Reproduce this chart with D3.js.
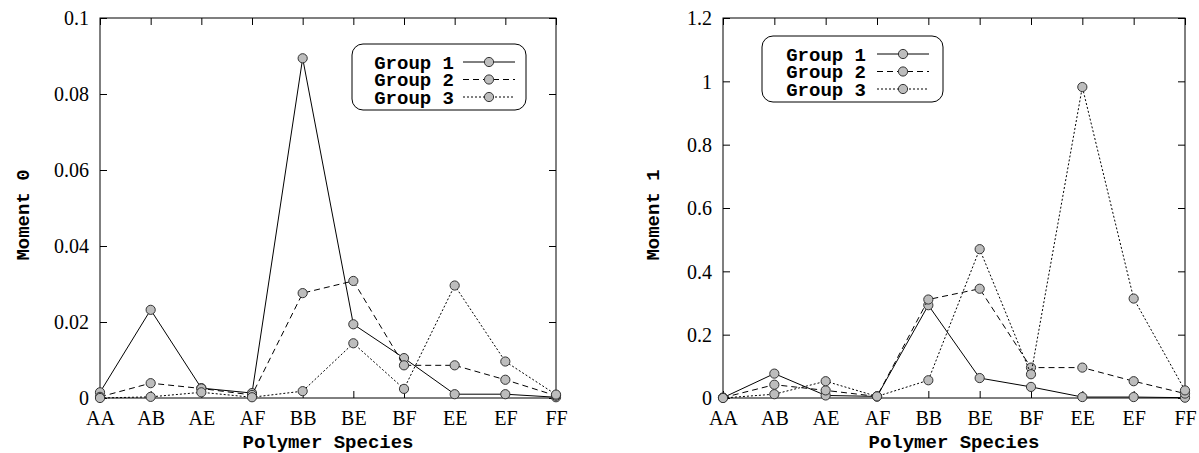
<!DOCTYPE html>
<html>
<head>
<meta charset="utf-8">
<script src="https://cdn.jsdelivr.net/npm/d3@7"></script>
<style>
  body { margin: 0; background: #fff; }
  svg { display: block; }
</style>
</head>
<body>
<svg id="chart" width="1199" height="453"></svg>
<script>
// Polymer species along the x axis
const categories = ["AA", "AB", "AE", "AF", "BB", "BE", "BF", "EE", "EF", "FF"];
const groupNames = ["Group 1", "Group 2", "Group 3"];

// Moment 0 per species
const moment0Group1 = [0.0015, 0.0232, 0.0026, 0.0013, 0.0894, 0.0194, 0.0105, 0.0010, 0.0010, 0.0002];
const moment0Group2 = [0.0003, 0.0039, 0.0025, 0.0008, 0.0276, 0.0308, 0.0086, 0.0086, 0.0048, 0.0006];
const moment0Group3 = [0.0000, 0.0003, 0.0015, 0.0002, 0.0018, 0.0144, 0.0024, 0.0296, 0.0096, 0.0009];

// Moment 1 per species
const moment1Group1 = [0.001, 0.077, 0.008, 0.005, 0.293, 0.063, 0.035, 0.003, 0.003, 0.001];
const moment1Group2 = [0.001, 0.042, 0.024, 0.005, 0.311, 0.345, 0.096, 0.096, 0.053, 0.014];
const moment1Group3 = [0.000, 0.012, 0.053, 0.005, 0.056, 0.470, 0.075, 0.982, 0.314, 0.024];

// Tick values for the y axes
const moment0Ticks = [0, 0.02, 0.04, 0.06, 0.08, 0.1];
const moment1Ticks = [0, 0.2, 0.4, 0.6, 0.8, 1, 1.2];

const dashes = [null, "6,4", "2,2"];
const serif = "'Liberation Serif', 'Times New Roman', serif";
const mono = "'Liberation Mono', 'Courier New', monospace";

const svg = d3.select("#chart");

function drawPanel(cfg) {
  const { left, right, top, bottom, yMax, ticks, series, yTitle, legend } = cfg;
  const x = d3.scalePoint().domain(categories).range([left, right]);
  const y = d3.scaleLinear().domain([0, yMax]).range([bottom, top]);
  const g = svg.append("g");

  const fmt = d => String(+d.toFixed(2));

  // bottom axis with inward ticks and category labels
  const bx = g.append("g").attr("transform", `translate(0,${bottom})`)
    .call(d3.axisBottom(x).tickSizeInner(-7).tickSizeOuter(0).tickPadding(13));
  // top mirror ticks
  const tx = g.append("g").attr("transform", `translate(0,${top})`)
    .call(d3.axisTop(x).tickSizeInner(-7).tickSizeOuter(0).tickFormat(""));
  // left axis
  const ly = g.append("g").attr("transform", `translate(${left},0)`)
    .call(d3.axisLeft(y).tickValues(ticks).tickSizeInner(-7).tickSizeOuter(0).tickPadding(11).tickFormat(fmt));
  // right mirror ticks
  const ry = g.append("g").attr("transform", `translate(${right},0)`)
    .call(d3.axisRight(y).tickValues(ticks).tickSizeInner(-7).tickSizeOuter(0).tickFormat(""));

  [bx, tx, ly, ry].forEach(a => {
    a.select(".domain").remove();
    a.selectAll("line").attr("stroke", "#000").attr("stroke-width", 1);
    a.selectAll("text").attr("font-family", serif).attr("font-size", 20).attr("fill", "#000");
  });
  ly.selectAll("text").attr("dy", "0.34em");

  // plot frame
  g.append("rect")
    .attr("x", left).attr("y", top)
    .attr("width", right - left).attr("height", bottom - top)
    .attr("fill", "none").attr("stroke", "#000").attr("stroke-width", 1);

  // axis titles
  g.append("text")
    .attr("x", (left + right) / 2).attr("y", 448)
    .attr("text-anchor", "middle")
    .attr("font-family", mono).attr("font-weight", "bold").attr("font-size", 19)
    .text("Polymer Species");
  g.append("text")
    .attr("transform", `translate(${cfg.yTitleX},215) rotate(-90)`)
    .attr("text-anchor", "middle").attr("dy", "0.35em")
    .attr("font-family", mono).attr("font-weight", "bold").attr("font-size", 19)
    .text(yTitle);

  // series: line then markers, in order
  const line = d3.line().x((d, i) => x(categories[i])).y(d => y(d));
  series.forEach((vals, k) => {
    g.append("path")
      .attr("d", line(vals))
      .attr("fill", "none").attr("stroke", "#000").attr("stroke-width", 1)
      .attr("stroke-dasharray", dashes[k]);
    g.selectAll(null).data(vals).enter().append("circle")
      .attr("cx", (d, i) => x(categories[i])).attr("cy", d => y(d))
      .attr("r", 4.6)
      .attr("fill", "#bdbdbd").attr("stroke", "#333").attr("stroke-width", 1);
  });

  // legend
  const lg = g.append("g").attr("transform", `translate(${legend.x},${legend.y})`);
  lg.append("rect")
    .attr("width", legend.w).attr("height", 66).attr("rx", 11).attr("ry", 11)
    .attr("fill", "#fff").attr("stroke", "#000").attr("stroke-width", 1);
  groupNames.forEach((name, k) => {
    const cy = 18 + k * 17.5;
    lg.append("text")
      .attr("x", legend.textEnd).attr("y", cy).attr("dy", "0.35em")
      .attr("text-anchor", "end")
      .attr("font-family", mono).attr("font-weight", "bold").attr("font-size", 19)
      .text(name);
    lg.append("line")
      .attr("x1", legend.lineStart).attr("x2", legend.lineStart + 52)
      .attr("y1", cy).attr("y2", cy)
      .attr("stroke", "#000").attr("stroke-width", 1)
      .attr("stroke-dasharray", dashes[k]);
    lg.append("circle")
      .attr("cx", legend.lineStart + 26).attr("cy", cy).attr("r", 4.6)
      .attr("fill", "#bdbdbd").attr("stroke", "#333").attr("stroke-width", 1);
  });
}

drawPanel({
  left: 100, right: 556, top: 18, bottom: 398,
  yMax: 0.1, ticks: moment0Ticks,
  series: [moment0Group1, moment0Group2, moment0Group3],
  yTitle: "Moment 0", yTitleX: 22,
  legend: { x: 352, y: 44, w: 174, textEnd: 102, lineStart: 111 }
});

drawPanel({
  left: 723, right: 1185, top: 18, bottom: 398,
  yMax: 1.2, ticks: moment1Ticks,
  series: [moment1Group1, moment1Group2, moment1Group3],
  yTitle: "Moment 1", yTitleX: 652,
  legend: { x: 762, y: 36, w: 181, textEnd: 104, lineStart: 115 }
});
</script>
</body>
</html>
